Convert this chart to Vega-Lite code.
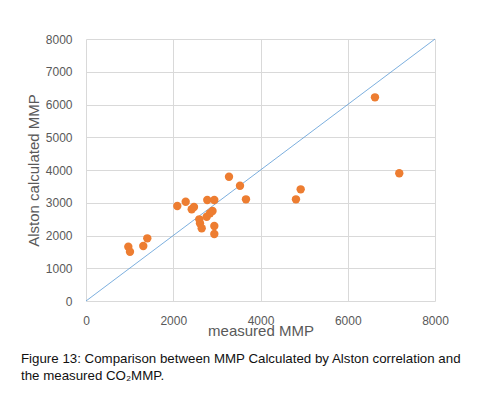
{
  "$schema": "https://vega.github.io/schema/vega-lite/v6.json",
  "width": 349,
  "height": 262,
  "autosize": {"type": "none"},
  "padding": {"left": 86, "top": 39, "right": 53, "bottom": 101},
  "background": "white",
  "config": {
    "view": {"stroke": null},
    "font": "Liberation Sans"
  },
  "title": {
    "text": ["Figure 13: Comparison between MMP Calculated by Alston correlation and", "the measured CO₂MMP."],
    "orient": "bottom",
    "anchor": "start",
    "frame": "group",
    "dx": -65,
    "offset": 14,
    "fontSize": 13.3,
    "fontWeight": "normal",
    "color": "#111111",
    "font": "Liberation Sans",
    "lineHeight": 17
  },
  "datasets": {
    "points": [
      {"measured": 970, "alston": 1658},
      {"measured": 1008, "alston": 1505},
      {"measured": 1313, "alston": 1679},
      {"measured": 1405, "alston": 1914},
      {"measured": 2093, "alston": 2900},
      {"measured": 2285, "alston": 3032},
      {"measured": 2423, "alston": 2800},
      {"measured": 2475, "alston": 2870},
      {"measured": 2780, "alston": 3084},
      {"measured": 2941, "alston": 3084},
      {"measured": 2842, "alston": 2678},
      {"measured": 2900, "alston": 2750},
      {"measured": 2767, "alston": 2574},
      {"measured": 2597, "alston": 2494},
      {"measured": 2613, "alston": 2372},
      {"measured": 2652, "alston": 2220},
      {"measured": 2941, "alston": 2290},
      {"measured": 2941, "alston": 2045},
      {"measured": 3278, "alston": 3795},
      {"measured": 3530, "alston": 3520},
      {"measured": 3667, "alston": 3105},
      {"measured": 4813, "alston": 3105},
      {"measured": 4921, "alston": 3410},
      {"measured": 6624, "alston": 6219},
      {"measured": 7181, "alston": 3899}
    ],
    "diagonal": [
      {"measured": 0, "alston": 0},
      {"measured": 8000, "alston": 8000}
    ]
  },
  "encoding": {
    "x": {
      "field": "measured",
      "type": "quantitative",
      "scale": {"domain": [0, 8000], "nice": false},
      "axis": {
        "title": "measured MMP",
        "values": [0, 2000, 4000, 6000, 8000],
        "format": "d",
        "grid": true,
        "gridColor": "#D9D9D9",
        "domain": false,
        "ticks": false,
        "labelOverlap": false,
        "labelFlush": false,
        "labelPadding": 14,
        "labelFontSize": 12,
        "labelColor": "#595959",
        "titleFontSize": 15,
        "titleFontWeight": "normal",
        "titleColor": "#595959",
        "titleY": 37,
        "titleBaseline": "bottom"
      }
    },
    "y": {
      "field": "alston",
      "type": "quantitative",
      "scale": {"domain": [0, 8000], "nice": false},
      "axis": {
        "title": "Alston calculated MMP",
        "values": [0, 1000, 2000, 3000, 4000, 5000, 6000, 7000, 8000],
        "format": "d",
        "grid": true,
        "gridColor": "#D9D9D9",
        "domain": false,
        "ticks": false,
        "labelOverlap": false,
        "labelFlush": false,
        "labelPadding": 14,
        "labelFontSize": 12,
        "labelColor": "#595959",
        "titleFontSize": 15,
        "titleFontWeight": "normal",
        "titleColor": "#595959",
        "titlePadding": 4
      }
    }
  },
  "layer": [
    {
      "data": {"name": "diagonal"},
      "mark": {"type": "line", "color": "#5B9BD5", "strokeWidth": 0.8}
    },
    {
      "data": {"name": "points"},
      "mark": {"type": "circle", "color": "#ED7D31", "opacity": 1, "size": 70}
    }
  ]
}
